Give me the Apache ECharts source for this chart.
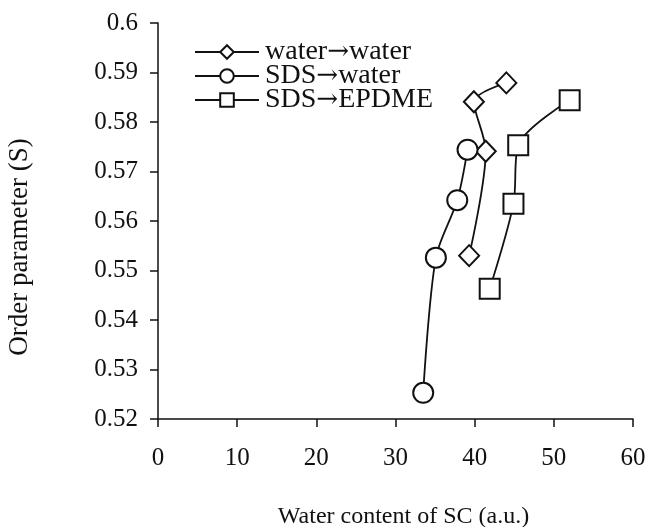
<!DOCTYPE html>
<html><head><meta charset="utf-8">
<script src="https://cdn.jsdelivr.net/npm/echarts@6/dist/echarts.min.js"></script>
<style>html,body{margin:0;padding:0;background:#fff}#c{width:649px;height:527px}</style>
</head><body><div id="c"></div>
<script>
const seriesNames = ['water\u2192water', 'SDS\u2192water', 'SDS\u2192EPDME'];
const waterWaterX = [39.3, 41.4, 39.9, 44.0];
const waterWaterY = [0.553, 0.5741, 0.5841, 0.5879];
const sdsWaterX = [33.5, 35.1, 37.8, 39.1];
const sdsWaterY = [0.5253, 0.5526, 0.5642, 0.5744];
const sdsEpdmeX = [41.9, 44.9, 45.5, 52.0];
const sdsEpdmeY = [0.5463, 0.5635, 0.5753, 0.5844];
const symbols = ['diamond', 'circle', 'rect'];
const symbolSizes = [[20, 21], 20, 20];

const font = 'Liberation Serif, Times New Roman, serif';
const pairs = (xs, ys) => xs.map((x, i) => [x, ys[i]]);
const dataSets = [pairs(waterWaterX, waterWaterY), pairs(sdsWaterX, sdsWaterY), pairs(sdsEpdmeX, sdsEpdmeY)];

const chart = echarts.init(document.getElementById('c'));
chart.setOption({
  animation: false,
  backgroundColor: '#fff',
  grid: {left: 158, right: 16, top: 23, bottom: 108, outerBoundsMode: 'none', containLabel: false},
  legend: {
    left: 189, top: 33, orient: 'vertical', itemGap: -4, itemWidth: 64, itemHeight: 17,
    textStyle: {
      fontFamily: font, fontSize: 28, color: '#111', padding: [0, 0, 0, 1],
      rich: {
        t: {fontFamily: font, fontSize: 28, color: '#111', lineHeight: 26},
        arr: {fontFamily: 'DejaVu Serif', fontSize: 26, color: '#111', lineHeight: 26}
      }
    },
    formatter: name => name.split('\u2192').map(s => '{t|' + s + '}').join('{arr|\u2192}'),
    data: seriesNames.map(n => ({name: n}))
  },
  xAxis: {
    type: 'value', min: 0, max: 60, interval: 10,
    name: 'Water content of SC (a.u.)', nameLocation: 'middle', nameGap: 86,
    nameTextStyle: {fontFamily: font, fontSize: 24, color: '#111', padding: [0, 0, 0, 16]},
    axisLine: {lineStyle: {color: '#111', width: 1.5}},
    axisTick: {show: true, inside: false, length: 8, lineStyle: {color: '#111', width: 1.5}},
    axisLabel: {fontFamily: font, fontSize: 25, color: '#111', margin: 27},
    splitLine: {show: false}
  },
  yAxis: {
    type: 'value', min: 0.52, max: 0.6, interval: 0.01,
    axisLine: {show: true, lineStyle: {color: '#111', width: 1.5}},
    axisTick: {show: true, inside: false, length: 8, lineStyle: {color: '#111', width: 1.5}},
    axisLabel: {fontFamily: font, fontSize: 25, color: '#111', margin: 20,
      formatter: v => String(parseFloat(v.toFixed(2)))},
    splitLine: {show: false}
  },
  graphic: [{
    type: 'text', x: 20, y: 247, rotation: Math.PI / 2,
    style: {text: 'Order parameter (S)', fontFamily: font, fontSize: 27, fill: '#111',
      textAlign: 'center', textVerticalAlign: 'middle'}
  }],
  series: dataSets.map((d, i) => ({
    name: seriesNames[i], type: 'line', data: d, smooth: 0.3,
    symbol: symbols[i], symbolSize: symbolSizes[i],
    lineStyle: {color: '#111', width: 1.8},
    itemStyle: {color: '#fff', borderColor: '#111', borderWidth: 2},
    z: 3
  }))
});
</script></body></html>
